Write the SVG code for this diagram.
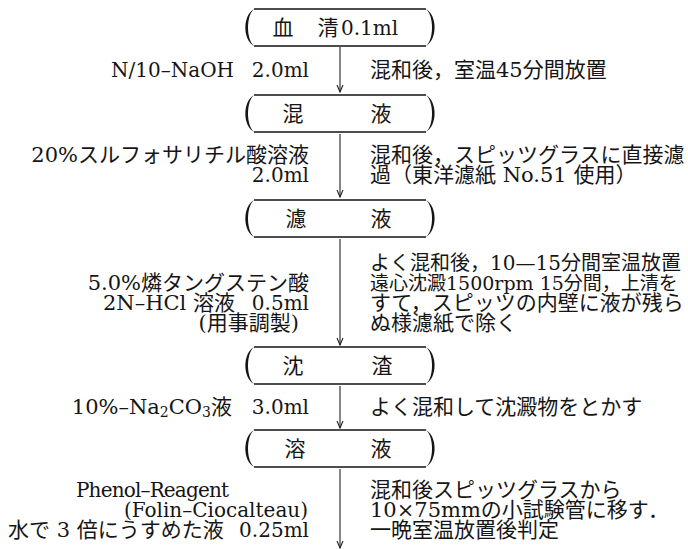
<svg xmlns="http://www.w3.org/2000/svg" width="688" height="549" viewBox="0 0 688 549">
<style>
text{font-family:"DejaVu Serif","Noto Sans CJK JP",serif;font-size:21px;fill:#151515;dominant-baseline:central}
.e{text-anchor:end}
.m{text-anchor:middle}
.lat{font-size:20px}
.s20{font-size:20px}
.s19{font-size:19px}
.cap-line{fill:none;stroke:#151515;stroke-width:1.3}
.paren{fill:#151515}
.conn{stroke:#222;stroke-width:1.1;fill:none}
</style>
<defs>
<g id="capsule">
<path class="cap-line" d="M-86,-18.5H86M-86,18.5H86"/>
<path class="paren" d="M-86,-18.5C-97.5,-12 -97.5,12 -86,18.5C-94,12 -94,-12 -86,-18.5Z"/>
<path class="paren" d="M86,-18.5C97.5,-12 97.5,12 86,18.5C94,12 94,-12 86,-18.5Z"/>
</g>
<marker id="ah" viewBox="-1 -4 9 8" refX="7" refY="0" markerWidth="9" markerHeight="8" markerUnits="userSpaceOnUse" orient="auto">
<path d="M0,-3L7,0L0,3" fill="none" stroke="#222" stroke-width="1.1"/>
</marker>
</defs>

<g id="connectors">
<line class="conn" x1="340" y1="47" x2="340" y2="92" marker-end="url(#ah)"/>
<line class="conn" x1="340" y1="134" x2="340" y2="197" marker-end="url(#ah)"/>
<line class="conn" x1="340" y1="239" x2="340" y2="345" marker-end="url(#ah)"/>
<line class="conn" x1="340" y1="386" x2="340" y2="428" marker-end="url(#ah)"/>
<line class="conn" x1="340" y1="469" x2="340" y2="548" marker-end="url(#ah)"/>
</g>

<g id="node-serum">
<use href="#capsule" x="340" y="27.5"/>
<text x="283" y="27.5" class="m">血</text>
<text x="328" y="27.5" class="m">清</text>
<text x="341" y="27.5" class="lat">0.1ml</text>
</g>

<g id="node-mix">
<use href="#capsule" x="340" y="113.5"/>
<text x="293" y="113.5" class="m">混</text>
<text x="381" y="113.5" class="m">液</text>
</g>

<g id="node-filtrate">
<use href="#capsule" x="340" y="218.5"/>
<text x="296" y="218.5" class="m">濾</text>
<text x="381" y="218.5" class="m">液</text>
</g>

<g id="node-sediment">
<use href="#capsule" x="340" y="365.5"/>
<text x="293" y="365.5" class="m">沈</text>
<text x="382" y="365.5" class="m">渣</text>
</g>

<g id="node-solution">
<use href="#capsule" x="340" y="448.5"/>
<text x="295" y="448.5" class="m">溶</text>
<text x="381" y="448.5" class="m">液</text>
</g>

<g id="step1">
<text x="234" y="70" class="e lat">N/10–NaOH</text>
<text x="309" y="70" class="e lat">2.0ml</text>
<text x="370" y="70">混和後，室温45分間放置</text>
</g>

<g id="step2">
<text x="309" y="155" class="e">20%スルフォサリチル酸溶液</text>
<text x="309" y="175" class="e lat">2.0ml</text>
<text x="370" y="155">混和後，スピッツグラスに直接濾</text>
<text x="370" y="175">過（東洋濾紙 No.51 使用）</text>
</g>

<g id="step3">
<text x="309" y="283" class="e">5.0%燐タングステン酸</text>
<text x="103" y="303">2N–HCl 溶液</text>
<text x="309" y="303" class="e lat">0.5ml</text>
<text x="299" y="323" class="e">(用事調製)</text>
<text x="370" y="263" class="s20">よく混和後，10—15分間室温放置</text>
<text x="370" y="283" class="s19">遠心沈澱1500rpm 15分間，上清を</text>
<text x="370" y="303">すて，スピッツの内壁に液が残ら</text>
<text x="370" y="323">ぬ様濾紙で除く</text>
</g>

<g id="step4">
<text x="232" y="407" class="e">10%–Na<tspan font-size="14" dy="5">2</tspan><tspan dy="-5">CO</tspan><tspan font-size="14" dy="5">3</tspan><tspan dy="-5">液</tspan></text>
<text x="309" y="407" class="e lat">3.0ml</text>
<text x="370" y="407">よく混和して沈澱物をとかす</text>
</g>

<g id="step5">
<text x="76" y="490" class="lat" textLength="153">Phenol–Reagent</text>
<text x="308" y="510" class="e lat">(Folin–Ciocalteau)</text>
<text x="8" y="530">水で 3 倍にうすめた液</text>
<text x="309" y="530" class="e lat">0.25ml</text>
<text x="370" y="490">混和後スピッツグラスから</text>
<text x="370" y="510">10×75mmの小試験管に移す．</text>
<text x="370" y="530">一晩室温放置後判定</text>
</g>
</svg>
